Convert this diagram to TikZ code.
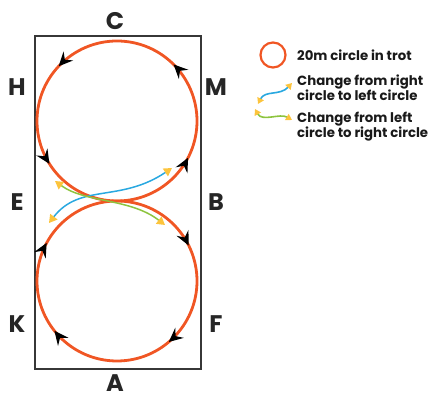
\documentclass[tikz,border=0pt]{standalone}
\usepackage{fontspec}
\setmainfont{Poppins}
\usepackage{xcolor}
\definecolor{trotorange}{RGB}{240,86,36}
\definecolor{changeblue}{RGB}{41,168,224}
\definecolor{changegreen}{RGB}{141,196,63}
\definecolor{tipyellow}{RGB}{252,196,61}
\definecolor{arenagray}{RGB}{55,55,55}
\usetikzlibrary{
  arrows.meta,
  positioning,
  calc,
  decorations.markings
}
\tikzset{
  arena/.style={draw=arenagray, line width=1.2pt, inner sep=0pt,
    minimum width=166pt, minimum height=333pt},
  letter/.style={font=\bfseries\fontsize{24}{24}\selectfont, text=black!85,
    inner sep=0pt},
  legendtext/.style={font=\bfseries\fontsize{13.3}{15}\selectfont,
    align=left, anchor=west, inner sep=0pt, text=black!90},
  trot/.style={draw=trotorange, line width=2.8pt},
  dirtip/.style={black},
  circmarks/.style n args={4}{decoration={markings,
      mark=at position #1 with {\arrow[dirtip]{Stealth[length=14pt,width=13pt,inset=5pt]}},
      mark=at position #2 with {\arrow[dirtip]{Stealth[length=14pt,width=13pt,inset=5pt]}},
      mark=at position #3 with {\arrow[dirtip]{Stealth[length=14pt,width=13pt,inset=5pt]}},
      mark=at position #4 with {\arrow[dirtip]{Stealth[length=14pt,width=13pt,inset=5pt]}}},
    postaction={decorate}},
  change/.style={line width=1.5pt,
    {Triangle[length=8pt,width=9pt,color=tipyellow]}-{Triangle[length=8pt,width=9pt,color=tipyellow]}},
  smallchange/.style={line width=1.6pt,
    {Triangle[length=6pt,width=7pt,color=tipyellow]}-{Triangle[length=6pt,width=7pt,color=tipyellow]}},
}

\begin{document}
\begin{tikzpicture}[x=1pt, y=1pt]
  \useasboundingbox (0,0) rectangle (429,398);

  % Arena and letters
  \node[arena] (arena) at (118,195.5) {};
  \node[letter] (C) at (115,377) {C};
  \node[letter] (A) at (115,15) {A};
  \node[letter] (H) at (17,311) {H};
  \node[letter] (M) at (216,311) {M};
  \node[letter] (E) at (17,196) {E};
  \node[letter] (B) at (216,196) {B};
  \node[letter] (K) at (17,74) {K};
  \node[letter] (F) at (216,74) {F};

  % Two 20m circles
  \coordinate (topc) at (117,277);
  \coordinate (botc) at (117,117);
  \draw[trot, circmarks={0.125}{0.38}{0.59}{0.924}] (topc) circle[radius=80];
  \draw[trot, circmarks={0.138}{0.393}{0.579}{0.927}]
    ($(botc)+(80,0)$) arc[start angle=0, end angle=-360, radius=80];

  % Changes of circle
  \coordinate (bstart) at (49,175);
  \coordinate (bend) at (172,230);
  \coordinate (gstart) at (55,217);
  \coordinate (gend) at (165,173);
  \draw[change, changeblue] (bstart) .. controls (80,215) and (120,195) .. (bend);
  \draw[change, changegreen] (gstart) .. controls (85,195) and (130,200) .. (gend);

  % Legend
  \draw[trotorange, line width=2.2pt] (273,343) circle[radius=12.5];
  \node[legendtext] (l1) at (297,343) {20m circle in trot};
  \coordinate (lbs) at (258,294);
  \coordinate (lbe) at (292,315);
  \draw[smallchange, changeblue] (lbs) .. controls (265,308) and (280,302) .. (lbe);
  \node[legendtext] (l2) at (297,310) {Change from right\\circle to left circle};
  \coordinate (lgs) at (255,289);
  \coordinate (lge) at (292,278);
  \draw[smallchange, changegreen] (lgs) .. controls (262,276) and (280,285) .. (lge);
  \node[legendtext] (l3) at (297,271) {Change from left\\circle to right circle};
\end{tikzpicture}
\end{document}
